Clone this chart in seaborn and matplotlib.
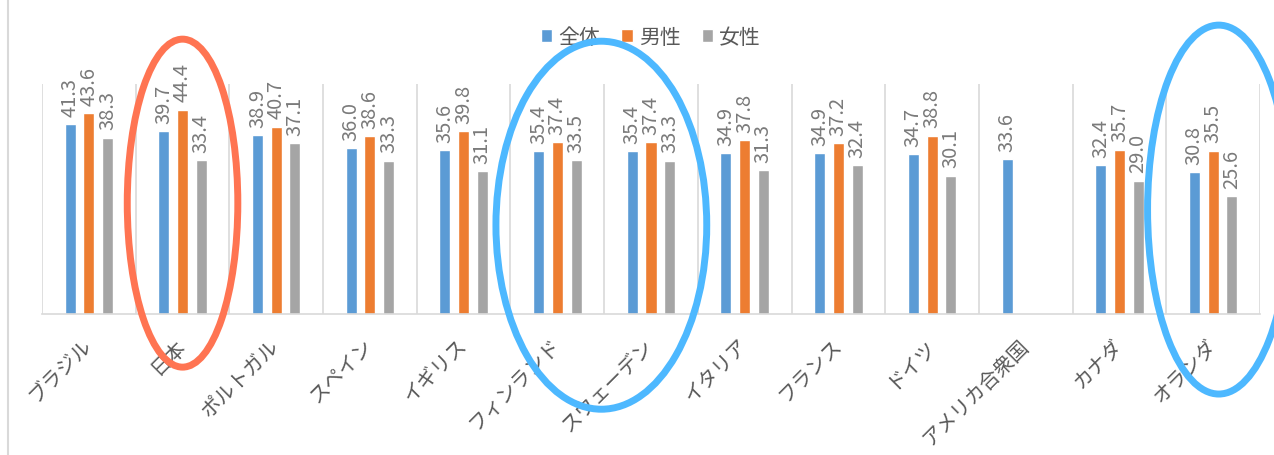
import matplotlib
matplotlib.use("Agg")
import matplotlib.pyplot as plt
import seaborn as sns
import pandas as pd
import numpy as np
from matplotlib.patches import Ellipse
from matplotlib.lines import Line2D

countries = ["ブラジル", "日本", "ポルトガル", "スペイン", "イギリス", "フィンランド",
             "スウェーデン", "イタリア", "フランス", "ドイツ", "アメリカ合衆国", "カナダ", "オランダ"]
series = ["全体", "男性", "女性"]
total = [41.3, 39.7, 38.9, 36.0, 35.6, 35.4, 35.4, 34.9, 34.9, 34.7, 33.6, 32.4, 30.8]
male = [43.6, 44.4, 40.7, 38.6, 39.8, 37.4, 37.4, 37.8, 37.2, 38.8, None, 35.7, 35.5]
female = [38.3, 33.4, 37.1, 33.3, 31.1, 33.5, 33.3, 31.3, 32.4, 30.1, None, 29.0, 25.6]
colors = ["#5B9BD5", "#ED7D31", "#A5A5A5"]

rows = []
for s, vals in zip(series, [total, male, female]):
    for c, v in zip(countries, vals):
        if v is not None:
            rows.append({"country": c, "series": s, "value": v})
df = pd.DataFrame(rows)

sns.set_theme(style="white")
plt.rcParams["font.family"] = ["Noto Sans CJK JP", "DejaVu Sans"]

fig = plt.figure(figsize=(12.74, 4.56), dpi=100)
ax = fig.add_axes([42/1274, 1 - 315/456, (1260-42)/1274, (315-85)/456])

sns.barplot(data=df, x="country", y="value", hue="series", order=countries,
            hue_order=series, palette=colors, width=0.6, gap=0.41, ax=ax,
            saturation=1, errorbar=None, legend=True)

for cont in ax.containers:
    ax.bar_label(cont, fmt="%.1f", rotation=90, padding=6, fontsize=14.5,
                 color="#7a7a7a")

ax.set_ylim(0, 50)
ax.set_xlim(-0.5, len(countries) - 0.5)
ax.set_xlabel("")
ax.set_ylabel("")
ax.set_yticks([])
ax.set_xticks(np.arange(-0.5, len(countries), 1.0), minor=True)
ax.grid(False)
ax.grid(True, which="minor", axis="x", color="#d9d9d9", linewidth=1.2)
ax.tick_params(axis="x", which="both", length=0)
ax.tick_params(axis="x", which="major", pad=20)
for lab in ax.get_xticklabels():
    lab.set_rotation(45)
    lab.set_ha("right")
    lab.set_va("center")
    lab.set_rotation_mode("anchor")
    lab.set_fontsize(14.5)
    lab.set_color("#595959")
for side in ["top", "right", "left"]:
    ax.spines[side].set_visible(False)
ax.spines["bottom"].set_color("#d9d9d9")
ax.spines["bottom"].set_linewidth(1.2)

leg = ax.legend(loc="center", bbox_to_anchor=(0.511, (456 - 38) / 456), bbox_transform=fig.transFigure,
                ncol=3, frameon=False, fontsize=15, handlelength=0.55, handleheight=0.55,
                handletextpad=0.3, columnspacing=1.0)
for t in leg.get_texts():
    t.set_color("#595959")

# highlight ellipses (annotations)
ell_specs = [
    (1.0, 24.1, 1.18, 71.3, "#FF7452"),
    (5.47, 19.3, 2.25, 80.0, "#4DB8FF"),
    (12.06, 22.7, 1.52, 80.2, "#4DB8FF"),
]
for cx, cy, w, h, col in ell_specs:
    e = Ellipse((cx, cy), w, h, fill=False, edgecolor=col, linewidth=5.0, clip_on=False, zorder=10)
    ax.add_patch(e)

fig.add_artist(Line2D([8/1274, 8/1274], [0, 1], transform=fig.transFigure, color="#d9d9d9", linewidth=1.5))

fig.savefig("out.png", dpi=100)
